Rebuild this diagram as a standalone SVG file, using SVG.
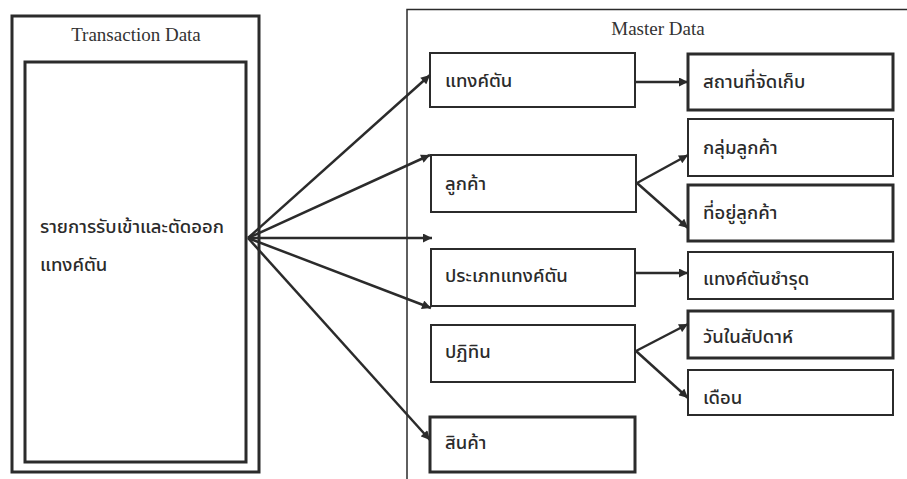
<svg xmlns="http://www.w3.org/2000/svg" width="907" height="479" viewBox="0 0 907 479">
  <style>
    .frame { fill: none; stroke: #2b2b2b; }
    .box { fill: #ffffff; stroke: #2b2b2b; stroke-width: 2; }
    .box.thick { stroke-width: 3; }
    .title { font-family: "Liberation Serif", serif; font-size: 19px; fill: #333; text-anchor: middle; }
    .lbl { font-family: "Noto Sans Thai", "Noto Sans", "DejaVu Sans", sans-serif; font-size: 18.5px; font-weight: 500; fill: #2b2b2b; dominant-baseline: central; }
    .conn { stroke: #2b2b2b; stroke-width: 2.5; fill: none; marker-end: url(#arrow); }
  </style>
  <defs>
    <marker id="arrow" viewBox="0 0 10 10" refX="10" refY="5" markerWidth="10" markerHeight="9" markerUnits="userSpaceOnUse" orient="auto">
      <path d="M0,0 L10,5 L0,10 z" fill="#2b2b2b"/>
    </marker>
  </defs>
  <rect width="907" height="479" fill="#ffffff"/>

  <!-- Transaction side -->
  <g id="transaction">
    <rect class="frame" x="12" y="16" width="247" height="456" stroke-width="3"/>
    <text class="title" x="136" y="41">Transaction Data</text>
    <rect class="frame" x="25" y="62" width="221" height="400" stroke-width="3"/>
    <text class="lbl" x="40" y="227">รายการรับเข้าและตัดออก</text>
    <text class="lbl" x="40" y="265">แทงค์ตัน</text>
  </g>

  <!-- Master side -->
  <g id="master">
    <path class="frame" d="M407,479 V9.5 H907" stroke-width="1.5"/>
    <text class="title" x="658" y="35">Master Data</text>
  </g>

  <g id="tank"><rect class="box" x="430" y="53" width="205" height="54"/><text class="lbl" x="445" y="81">แทงค์ตัน</text></g>
  <g id="storage"><rect class="box thick" x="688" y="54" width="205" height="56"/><text class="lbl" x="703" y="82">สถานที่จัดเก็บ</text></g>
  <g id="customer-group"><rect class="box" x="688" y="119" width="205" height="57"/><text class="lbl" x="703" y="148">กลุ่มลูกค้า</text></g>
  <g id="customer"><rect class="box" x="431" y="155" width="205" height="57"/><text class="lbl" x="445" y="184">ลูกค้า</text></g>
  <g id="customer-address"><rect class="box thick" x="688" y="185" width="205" height="56"/><text class="lbl" x="703" y="213">ที่อยู่ลูกค้า</text></g>
  <g id="tank-type"><rect class="box" x="431" y="249" width="204" height="57"/><text class="lbl" x="445" y="276">ประเภทแทงค์ตัน</text></g>
  <g id="tank-damaged"><rect class="box" x="688" y="252" width="205" height="47"/><text class="lbl" x="703" y="279">แทงค์ตันชำรุด</text></g>
  <g id="calendar"><rect class="box" x="431" y="325" width="204" height="57"/><text class="lbl" x="445" y="352">ปฏิทิน</text></g>
  <g id="weekday"><rect class="box thick" x="688" y="311" width="205" height="47"/><text class="lbl" x="703" y="337">วันในสัปดาห์</text></g>
  <g id="month"><rect class="box" x="688" y="370" width="205" height="45"/><text class="lbl" x="703" y="398">เดือน</text></g>
  <g id="product"><rect class="box thick" x="430" y="417" width="205" height="55"/><text class="lbl" x="445" y="443">สินค้า</text></g>

  <g id="connectors">
    <line class="conn" x1="248" y1="238" x2="430" y2="75"/>
    <line class="conn" x1="248" y1="238" x2="430" y2="155"/>
    <line class="conn" x1="248" y1="238" x2="432" y2="238"/>
    <line class="conn" x1="248" y1="238" x2="431" y2="308"/>
    <line class="conn" x1="248" y1="238" x2="430" y2="440"/>
    <line class="conn" x1="635" y1="82" x2="688" y2="82" stroke-width="1.5"/>
    <line class="conn" x1="637" y1="183" x2="688" y2="155"/>
    <line class="conn" x1="637" y1="183" x2="688" y2="228"/>
    <line class="conn" x1="635" y1="273" x2="688" y2="273"/>
    <line class="conn" x1="636" y1="351" x2="688" y2="324"/>
    <line class="conn" x1="636" y1="351" x2="688" y2="398"/>
  </g>
</svg>
